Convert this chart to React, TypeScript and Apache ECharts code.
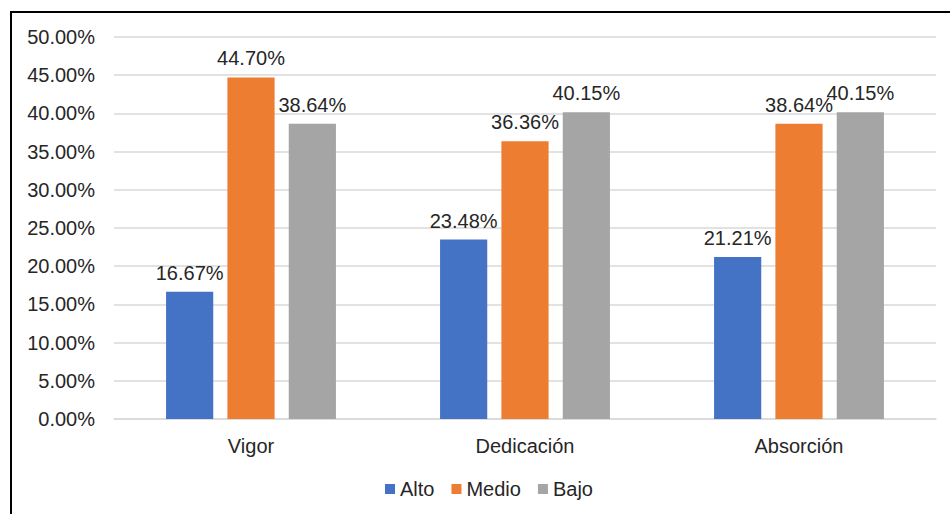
import React, { useEffect, useRef } from "react";
import * as echarts from "echarts";

const categories = ["Vigor", "Dedicación", "Absorción"];
const alto = [16.67, 23.48, 21.21];
const medio = [44.7, 36.36, 38.64];
const bajo = [38.64, 40.15, 40.15];
const seriesNames = ["Alto", "Medio", "Bajo"];
const colors = ["#4472C4", "#ED7D31", "#A5A5A5"];

const FONT = "'Liberation Sans', Arial, sans-serif";
const TXT = "#262626";

export default function App() {
  const ref = useRef<HTMLDivElement>(null);
  useEffect(() => {
    if (!ref.current) return;
    const chart = echarts.init(ref.current, null, { renderer: "svg" });
    const values = [alto, medio, bajo];
    chart.setOption({
      animation: false,
      backgroundColor: "#ffffff",
      textStyle: { fontFamily: FONT },
      grid: { left: 114, right: 14, top: 37, bottom: 95, containLabel: false },
      xAxis: {
        type: "category",
        data: categories,
        axisLine: { lineStyle: { color: "#d9d9d9", width: 1.5 } },
        axisTick: { show: false },
        axisLabel: { color: TXT, fontSize: 20, margin: 17, fontFamily: FONT },
      },
      yAxis: {
        type: "value",
        min: 0,
        max: 50,
        interval: 5,
        axisLine: { show: false },
        axisTick: { show: false },
        splitLine: { lineStyle: { color: "#d9d9d9", width: 1.5 } },
        axisLabel: {
          color: TXT,
          fontSize: 20,
          margin: 19,
          fontFamily: FONT,
          formatter: (v: number) => v.toFixed(2) + "%",
        },
      },
      legend: {
        left: 380,
        top: 474,
        itemWidth: 10,
        itemHeight: 10,
        itemGap: 17,
        icon: "rect",
        textStyle: { color: TXT, fontSize: 20, fontFamily: FONT },
        data: seriesNames,
      },
      series: seriesNames.map((name, i) => ({
        name,
        type: "bar",
        data: values[i],
        barGap: "30%",
        barCategoryGap: "38%",
        itemStyle: { color: colors[i] },
        label: {
          show: true,
          position: "top",
          distance: 9,
          color: TXT,
          fontSize: 20,
          fontFamily: FONT,
          formatter: (p: any) => p.value.toFixed(2) + "%",
        },
      })),
      graphic: [
        { type: "line", shape: { x1: 11, y1: 12, x2: 11, y2: 520 }, style: { stroke: "#000", lineWidth: 2 } },
        { type: "line", shape: { x1: 10, y1: 12, x2: 960, y2: 12 }, style: { stroke: "#000", lineWidth: 2 } },
      ],
    });
    return () => chart.dispose();
  }, []);
  return (
    <div
      ref={ref}
      style={{ position: "fixed", left: 0, top: 0, width: 950, height: 514 }}
    />
  );
}
